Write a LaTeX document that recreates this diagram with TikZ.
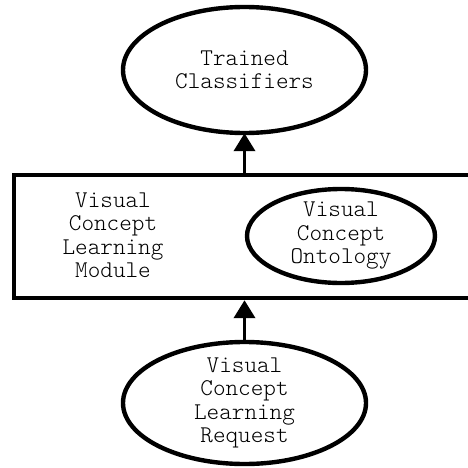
\documentclass[tikz,border=0pt]{standalone}
\usetikzlibrary{arrows.meta,shapes.geometric}
\begin{document}
\begin{tikzpicture}[x=1pt,y=-1pt,
  lbl/.style={font=\fontsize{24}{23.5}\selectfont\ttfamily\fontseries{l}\selectfont, align=center, inner sep=0pt},
  oval/.style={ellipse, draw, line width=4.4pt, inner sep=0pt},
  frame/.style={rectangle, draw, line width=4.4pt, inner sep=0pt},
  flow/.style={line width=3.8pt, -{Triangle[width=21pt,length=18pt]}}]
  \useasboundingbox (0,0) rectangle (468,468);
  % module frame, running off the right side
  \node[frame, minimum width=470pt, minimum height=123pt] (module) at (249,236.5) {};
  \node[lbl] (modtext) at (113,235) {Visual\\Concept\\Learning\\Module};
  \node[oval, minimum width=188pt, minimum height=94pt] (onto) at (341,236) {};
  \node[lbl] at (onto.center) {Visual\\Concept\\Ontology};
  % output and input ovals
  \node[oval, minimum width=243pt, minimum height=126pt] (out) at (244.5,70) {};
  \node[lbl] at (out.center) {Trained\\Classifiers};
  \node[oval, minimum width=243pt, minimum height=122pt] (req) at (244.5,403) {};
  \node[lbl] at (req.center) {Visual\\Concept\\Learning\\Request};
  % connectors
  \draw[flow] (module.north -| out.south) -- ([yshift=2pt]out.south);
  \draw[flow] ([yshift=-2pt]req.north) -- (module.south -| req.north);
\end{tikzpicture}
\end{document}
